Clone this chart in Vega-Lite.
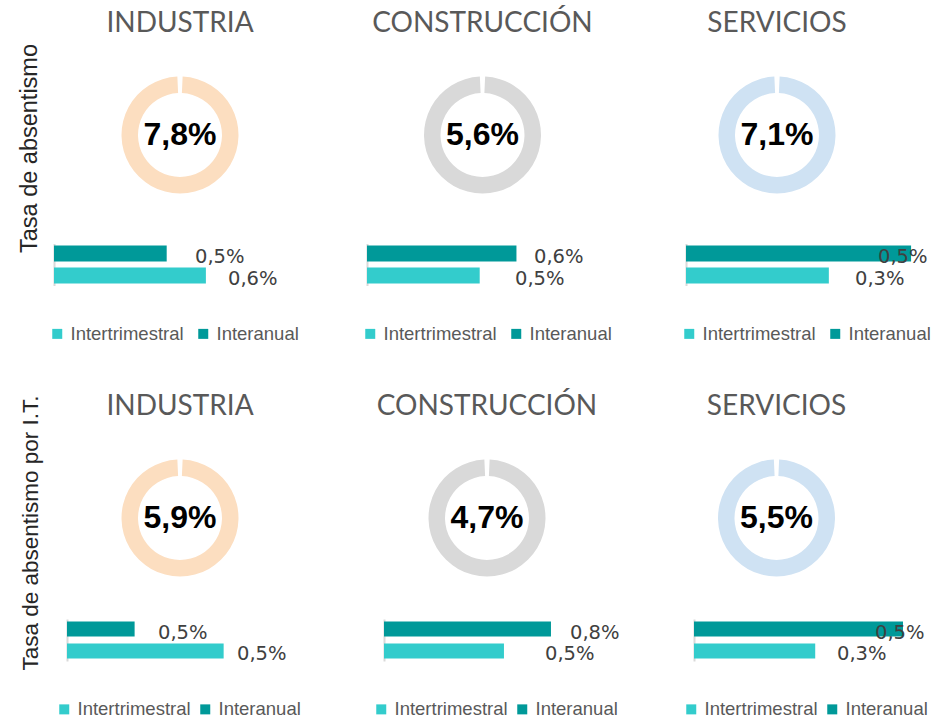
{
  "$schema": "https://vega.github.io/schema/vega-lite/v6.json",
  "background": "white",
  "padding": {"top": 10, "left": 0, "right": 0, "bottom": 0},
  "config": {
    "view": {"stroke": null},
    "locale": {"number": {"decimal": ",", "thousands": ".", "grouping": [3], "currency": ["", " €"]}},
    "title": {"font": "Lato", "fontSize": 28, "fontWeight": "normal", "color": "#595959", "baseline": "alphabetic", "offset": 32, "anchor": "middle"},
    "legend": {"orient": "bottom", "direction": "horizontal", "title": null, "symbolType": "square", "symbolSize": 100, "symbolStrokeWidth": 0, "symbolOffset": -6, "labelFont": "Liberation Sans", "labelFontSize": 18.5, "labelColor": "#595959", "columnPadding": 14, "labelOffset": 4, "offset": 39, "padding": 0},
    "axisY": {"title": null, "labels": false, "ticks": false, "grid": false, "domainColor": "#D9D9D9", "domainWidth": 2}
  },
  "datasets": {
    "indicadores": [
      {"indicador": "Tasa de absentismo"},
      {"indicador": "Tasa de absentismo por I.T."}
    ],
    "tasas": [
      {"indicador": "Tasa de absentismo", "sector": "INDUSTRIA", "tasa": 0.078},
      {"indicador": "Tasa de absentismo", "sector": "CONSTRUCCIÓN", "tasa": 0.056},
      {"indicador": "Tasa de absentismo", "sector": "SERVICIOS", "tasa": 0.071},
      {"indicador": "Tasa de absentismo por I.T.", "sector": "INDUSTRIA", "tasa": 0.059},
      {"indicador": "Tasa de absentismo por I.T.", "sector": "CONSTRUCCIÓN", "tasa": 0.047},
      {"indicador": "Tasa de absentismo por I.T.", "sector": "SERVICIOS", "tasa": 0.055}
    ],
    "variaciones": [
      {"indicador": "Tasa de absentismo", "sector": "INDUSTRIA", "tipo": "Interanual", "valor": 0.0046},
      {"indicador": "Tasa de absentismo", "sector": "INDUSTRIA", "tipo": "Intertrimestral", "valor": 0.0062},
      {"indicador": "Tasa de absentismo", "sector": "CONSTRUCCIÓN", "tipo": "Interanual", "valor": 0.0061},
      {"indicador": "Tasa de absentismo", "sector": "CONSTRUCCIÓN", "tipo": "Intertrimestral", "valor": 0.0046},
      {"indicador": "Tasa de absentismo", "sector": "SERVICIOS", "tipo": "Interanual", "valor": 0.0052},
      {"indicador": "Tasa de absentismo", "sector": "SERVICIOS", "tipo": "Intertrimestral", "valor": 0.0033},
      {"indicador": "Tasa de absentismo por I.T.", "sector": "INDUSTRIA", "tipo": "Interanual", "valor": 0.0046},
      {"indicador": "Tasa de absentismo por I.T.", "sector": "INDUSTRIA", "tipo": "Intertrimestral", "valor": 0.00539},
      {"indicador": "Tasa de absentismo por I.T.", "sector": "CONSTRUCCIÓN", "tipo": "Interanual", "valor": 0.0076},
      {"indicador": "Tasa de absentismo por I.T.", "sector": "CONSTRUCCIÓN", "tipo": "Intertrimestral", "valor": 0.00546},
      {"indicador": "Tasa de absentismo por I.T.", "sector": "SERVICIOS", "tipo": "Interanual", "valor": 0.005},
      {"indicador": "Tasa de absentismo por I.T.", "sector": "SERVICIOS", "tipo": "Intertrimestral", "valor": 0.0029}
    ]
  },
  "resolve": {"scale": {"x": "independent", "y": "independent", "color": "independent", "theta": "independent"}, "legend": {"color": "independent"}},
  "spacing": 49,
  "vconcat": [
    {
      "spacing": 0,
      "bounds": "full",
      "resolve": {"scale": {"x": "independent", "y": "independent", "color": "independent", "theta": "independent"}, "legend": {"color": "independent"}},
      "hconcat": [
        {
          "width": 54, "height": 157,
          "data": {"name": "indicadores"},
          "transform": [{"filter": "datum.indicador == 'Tasa de absentismo'"}],
          "mark": {"type": "text", "angle": 270, "font": "Liberation Sans", "fontSize": 23.5, "color": "#262626", "baseline": "middle", "align": "center", "dy": 3},
          "encoding": {"text": {"field": "indicador", "type": "nominal"}}
        },
        {
          "spacing": 43.5, "bounds": "flush",
          "resolve": {"scale": {"x": "independent", "y": "independent", "color": "independent", "theta": "independent"}, "legend": {"color": "independent"}},
          "vconcat": [
            {
              "width": 252, "height": 130, "title": "INDUSTRIA",
              "data": {"name": "tasas"},
              "transform": [{"filter": "datum.indicador == 'Tasa de absentismo' && datum.sector == 'INDUSTRIA'"}],
              "layer": [
                {"mark": {"type": "arc", "innerRadius": 42, "outerRadius": 58.5, "color": "#FCDEC0"},
                 "encoding": {"theta": {"field": "tasa", "type": "quantitative", "scale": {"range": [0.045, 6.238], "zero": true, "nice": false}}}},
                {"mark": {"type": "text", "font": "Liberation Sans", "fontSize": 32, "fontWeight": "bold", "color": "#000000", "baseline": "middle"},
                 "encoding": {"text": {"field": "tasa", "type": "quantitative", "format": ".1%"}}}
              ]
            },
            {
              "width": 313, "height": 42,
              "data": {"name": "variaciones"},
              "transform": [{"filter": "datum.indicador == 'Tasa de absentismo' && datum.sector == 'INDUSTRIA'"}],
              "resolve": {"scale": {"x": "independent"}},
              "layer": [
                {"mark": {"type": "bar"},
                 "encoding": {
                   "y": {"field": "tipo", "type": "nominal", "scale": {"domain": ["Interanual", "Intertrimestral"], "paddingInner": 0.273, "paddingOuter": 0.091}},
                   "x": {"field": "valor", "type": "quantitative", "scale": {"domain": [0, 0.012776], "nice": false}, "axis": null},
                   "color": {"field": "tipo", "type": "nominal", "scale": {"domain": ["Intertrimestral", "Interanual"], "range": ["#33CCCC", "#009999"]}}
                 }},
                {"mark": {"type": "text", "align": "left", "baseline": "middle", "dy": 3.5, "font": "DejaVu Sans", "fontSize": 19.5, "color": "#404040"},
                 "encoding": {
                   "y": {"field": "tipo", "type": "nominal"},
                   "x": {"field": "valor", "type": "quantitative", "scale": {"domain": [-0.002235, 0.012941], "zero": false, "nice": false}, "axis": null},
                   "text": {"field": "valor", "type": "quantitative", "format": ".1%"}
                 }}
              ]
            }
          ]
        },
        {
          "spacing": 43.5, "bounds": "flush",
          "resolve": {"scale": {"x": "independent", "y": "independent", "color": "independent", "theta": "independent"}, "legend": {"color": "independent"}},
          "vconcat": [
            {
              "width": 231, "height": 130, "title": "CONSTRUCCIÓN",
              "data": {"name": "tasas"},
              "transform": [{"filter": "datum.indicador == 'Tasa de absentismo' && datum.sector == 'CONSTRUCCIÓN'"}],
              "layer": [
                {"mark": {"type": "arc", "innerRadius": 42, "outerRadius": 58.5, "color": "#D9D9D9"},
                 "encoding": {"theta": {"field": "tasa", "type": "quantitative", "scale": {"range": [0.045, 6.238], "zero": true, "nice": false}}}},
                {"mark": {"type": "text", "font": "Liberation Sans", "fontSize": 32, "fontWeight": "bold", "color": "#000000", "baseline": "middle"},
                 "encoding": {"text": {"field": "tasa", "type": "quantitative", "format": ".1%"}}}
              ]
            },
            {
              "width": 319, "height": 42,
              "data": {"name": "variaciones"},
              "transform": [{"filter": "datum.indicador == 'Tasa de absentismo' && datum.sector == 'CONSTRUCCIÓN'"}],
              "resolve": {"scale": {"x": "independent"}},
              "layer": [
                {"mark": {"type": "bar"},
                 "encoding": {
                   "y": {"field": "tipo", "type": "nominal", "scale": {"domain": ["Interanual", "Intertrimestral"], "paddingInner": 0.273, "paddingOuter": 0.091}},
                   "x": {"field": "valor", "type": "quantitative", "scale": {"domain": [0, 0.01302], "nice": false}, "axis": null},
                   "color": {"field": "tipo", "type": "nominal", "scale": {"domain": ["Intertrimestral", "Interanual"], "range": ["#33CCCC", "#009999"]}}
                 }},
                {"mark": {"type": "text", "align": "left", "baseline": "middle", "dy": 3.5, "font": "DejaVu Sans", "fontSize": 19.5, "color": "#404040"},
                 "encoding": {
                   "y": {"field": "tipo", "type": "nominal"},
                   "x": {"field": "valor", "type": "quantitative", "scale": {"domain": [-0.007084, 0.0181], "zero": false, "nice": false}, "axis": null},
                   "text": {"field": "valor", "type": "quantitative", "format": ".1%"}
                 }}
              ]
            }
          ]
        },
        {
          "spacing": 43.5, "bounds": "flush",
          "resolve": {"scale": {"x": "independent", "y": "independent", "color": "independent", "theta": "independent"}, "legend": {"color": "independent"}},
          "vconcat": [
            {
              "width": 182, "height": 130, "title": "SERVICIOS",
              "data": {"name": "tasas"},
              "transform": [{"filter": "datum.indicador == 'Tasa de absentismo' && datum.sector == 'SERVICIOS'"}],
              "layer": [
                {"mark": {"type": "arc", "innerRadius": 42, "outerRadius": 58.5, "color": "#CFE2F3"},
                 "encoding": {"theta": {"field": "tasa", "type": "quantitative", "scale": {"range": [0.045, 6.238], "zero": true, "nice": false}}}},
                {"mark": {"type": "text", "font": "Liberation Sans", "fontSize": 32, "fontWeight": "bold", "color": "#000000", "baseline": "middle"},
                 "encoding": {"text": {"field": "tasa", "type": "quantitative", "format": ".1%"}}}
              ]
            },
            {
              "width": 245, "height": 42,
              "data": {"name": "variaciones"},
              "transform": [{"filter": "datum.indicador == 'Tasa de absentismo' && datum.sector == 'SERVICIOS'"}],
              "resolve": {"scale": {"x": "independent"}},
              "layer": [
                {"mark": {"type": "bar"},
                 "encoding": {
                   "y": {"field": "tipo", "type": "nominal", "scale": {"domain": ["Interanual", "Intertrimestral"], "paddingInner": 0.273, "paddingOuter": 0.091}},
                   "x": {"field": "valor", "type": "quantitative", "scale": {"domain": [0, 0.00566], "nice": false}, "axis": null},
                   "color": {"field": "tipo", "type": "nominal", "scale": {"domain": ["Intertrimestral", "Interanual"], "range": ["#33CCCC", "#009999"]}}
                 }},
                {"mark": {"type": "text", "align": "left", "baseline": "middle", "dy": 3.5, "font": "DejaVu Sans", "fontSize": 19.5, "color": "#404040"},
                 "encoding": {
                   "y": {"field": "tipo", "type": "nominal"},
                   "x": {"field": "valor", "type": "quantitative", "scale": {"domain": [-0.010661, 0.009579], "zero": false, "nice": false}, "axis": null},
                   "text": {"field": "valor", "type": "quantitative", "format": ".1%"}
                 }}
              ]
            }
          ]
        }
      ]
    },
    {
      "spacing": 0,
      "bounds": "full",
      "resolve": {"scale": {"x": "independent", "y": "independent", "color": "independent", "theta": "independent"}, "legend": {"color": "independent"}},
      "hconcat": [
        {
          "width": 67, "height": 160,
          "data": {"name": "indicadores"},
          "transform": [{"filter": "datum.indicador == 'Tasa de absentismo por I.T.'"}],
          "mark": {"type": "text", "angle": 270, "font": "Liberation Sans", "fontSize": 22.5, "color": "#262626", "baseline": "middle", "align": "center", "dy": -2.5},
          "encoding": {"text": {"field": "indicador", "type": "nominal"}}
        },
        {
          "spacing": 36, "bounds": "flush",
          "resolve": {"scale": {"x": "independent", "y": "independent", "color": "independent", "theta": "independent"}, "legend": {"color": "independent"}},
          "vconcat": [
            {
              "width": 226, "height": 130, "title": "INDUSTRIA",
              "data": {"name": "tasas"},
              "transform": [{"filter": "datum.indicador == 'Tasa de absentismo por I.T.' && datum.sector == 'INDUSTRIA'"}],
              "layer": [
                {"mark": {"type": "arc", "innerRadius": 42, "outerRadius": 58.5, "color": "#FCDEC0"},
                 "encoding": {"theta": {"field": "tasa", "type": "quantitative", "scale": {"range": [0.045, 6.238], "zero": true, "nice": false}}}},
                {"mark": {"type": "text", "font": "Liberation Sans", "fontSize": 32, "fontWeight": "bold", "color": "#000000", "baseline": "middle"},
                 "encoding": {"text": {"field": "tasa", "type": "quantitative", "format": ".1%"}}}
              ]
            },
            {
              "width": 309, "height": 42,
              "data": {"name": "variaciones"},
              "transform": [{"filter": "datum.indicador == 'Tasa de absentismo por I.T.' && datum.sector == 'INDUSTRIA'"}],
              "resolve": {"scale": {"x": "independent"}},
              "layer": [
                {"mark": {"type": "bar"},
                 "encoding": {
                   "y": {"field": "tipo", "type": "nominal", "scale": {"domain": ["Interanual", "Intertrimestral"], "paddingInner": 0.318, "paddingOuter": 0.114}},
                   "x": {"field": "valor", "type": "quantitative", "scale": {"domain": [0.004, 0.006742], "zero": false, "nice": false, "clamp": true}, "axis": null},
                   "color": {"field": "tipo", "type": "nominal", "scale": {"domain": ["Intertrimestral", "Interanual"], "range": ["#33CCCC", "#009999"]}, "legend": {"symbolOffset": -12, "columnPadding": 9}}
                 }},
                {"mark": {"type": "text", "align": "left", "baseline": "middle", "dy": 3.5, "font": "DejaVu Sans", "fontSize": 19.5, "color": "#404040"},
                 "encoding": {
                   "y": {"field": "tipo", "type": "nominal"},
                   "x": {"field": "valor", "type": "quantitative", "scale": {"domain": [0.00369, 0.00678], "zero": false, "nice": false}, "axis": null},
                   "text": {"field": "valor", "type": "quantitative", "format": ".1%"}
                 }}
              ]
            }
          ]
        },
        {
          "spacing": 36, "bounds": "flush",
          "resolve": {"scale": {"x": "independent", "y": "independent", "color": "independent", "theta": "independent"}, "legend": {"color": "independent"}},
          "vconcat": [
            {
              "width": 206, "height": 130, "title": "CONSTRUCCIÓN",
              "data": {"name": "tasas"},
              "transform": [{"filter": "datum.indicador == 'Tasa de absentismo por I.T.' && datum.sector == 'CONSTRUCCIÓN'"}],
              "layer": [
                {"mark": {"type": "arc", "innerRadius": 42, "outerRadius": 58.5, "color": "#D9D9D9"},
                 "encoding": {"theta": {"field": "tasa", "type": "quantitative", "scale": {"range": [0.045, 6.238], "zero": true, "nice": false}}}},
                {"mark": {"type": "text", "font": "Liberation Sans", "fontSize": 32, "fontWeight": "bold", "color": "#000000", "baseline": "middle"},
                 "encoding": {"text": {"field": "tasa", "type": "quantitative", "format": ".1%"}}}
              ]
            },
            {
              "width": 310, "height": 42,
              "data": {"name": "variaciones"},
              "transform": [{"filter": "datum.indicador == 'Tasa de absentismo por I.T.' && datum.sector == 'CONSTRUCCIÓN'"}],
              "resolve": {"scale": {"x": "independent"}},
              "layer": [
                {"mark": {"type": "bar"},
                 "encoding": {
                   "y": {"field": "tipo", "type": "nominal", "scale": {"domain": ["Interanual", "Intertrimestral"], "paddingInner": 0.318, "paddingOuter": 0.114}},
                   "x": {"field": "valor", "type": "quantitative", "scale": {"domain": [0, 0.01411], "nice": false}, "axis": null},
                   "color": {"field": "tipo", "type": "nominal", "scale": {"domain": ["Intertrimestral", "Interanual"], "range": ["#33CCCC", "#009999"]}, "legend": {"symbolOffset": -12, "columnPadding": 9}}
                 }},
                {"mark": {"type": "text", "align": "left", "baseline": "middle", "dy": 3.5, "font": "DejaVu Sans", "fontSize": 19.5, "color": "#404040"},
                 "encoding": {
                   "y": {"field": "tipo", "type": "nominal"},
                   "x": {"field": "valor", "type": "quantitative", "scale": {"domain": [-0.008322, 0.018219], "zero": false, "nice": false}, "axis": null},
                   "text": {"field": "valor", "type": "quantitative", "format": ".1%"}
                 }}
              ]
            }
          ]
        },
        {
          "spacing": 36, "bounds": "flush",
          "resolve": {"scale": {"x": "independent", "y": "independent", "color": "independent", "theta": "independent"}, "legend": {"color": "independent"}},
          "vconcat": [
            {
              "width": 165, "height": 130, "title": "SERVICIOS",
              "data": {"name": "tasas"},
              "transform": [{"filter": "datum.indicador == 'Tasa de absentismo por I.T.' && datum.sector == 'SERVICIOS'"}],
              "layer": [
                {"mark": {"type": "arc", "innerRadius": 42, "outerRadius": 58.5, "color": "#CFE2F3"},
                 "encoding": {"theta": {"field": "tasa", "type": "quantitative", "scale": {"range": [0.045, 6.238], "zero": true, "nice": false}}}},
                {"mark": {"type": "text", "font": "Liberation Sans", "fontSize": 32, "fontWeight": "bold", "color": "#000000", "baseline": "middle"},
                 "encoding": {"text": {"field": "tasa", "type": "quantitative", "format": ".1%"}}}
              ]
            },
            {
              "width": 235, "height": 42,
              "data": {"name": "variaciones"},
              "transform": [{"filter": "datum.indicador == 'Tasa de absentismo por I.T.' && datum.sector == 'SERVICIOS'"}],
              "resolve": {"scale": {"x": "independent"}},
              "layer": [
                {"mark": {"type": "bar"},
                 "encoding": {
                   "y": {"field": "tipo", "type": "nominal", "scale": {"domain": ["Interanual", "Intertrimestral"], "paddingInner": 0.318, "paddingOuter": 0.114}},
                   "x": {"field": "valor", "type": "quantitative", "scale": {"domain": [0, 0.005622], "nice": false}, "axis": null},
                   "color": {"field": "tipo", "type": "nominal", "scale": {"domain": ["Intertrimestral", "Interanual"], "range": ["#33CCCC", "#009999"]}, "legend": {"symbolOffset": -12, "columnPadding": 9}}
                 }},
                {"mark": {"type": "text", "align": "left", "baseline": "middle", "dy": 3.5, "font": "DejaVu Sans", "fontSize": 19.5, "color": "#404040"},
                 "encoding": {
                   "y": {"field": "tipo", "type": "nominal"},
                   "x": {"field": "valor", "type": "quantitative", "scale": {"domain": [-0.005003, 0.007984], "zero": false, "nice": false}, "axis": null},
                   "text": {"field": "valor", "type": "quantitative", "format": ".1%"}
                 }}
              ]
            }
          ]
        }
      ]
    }
  ]
}
